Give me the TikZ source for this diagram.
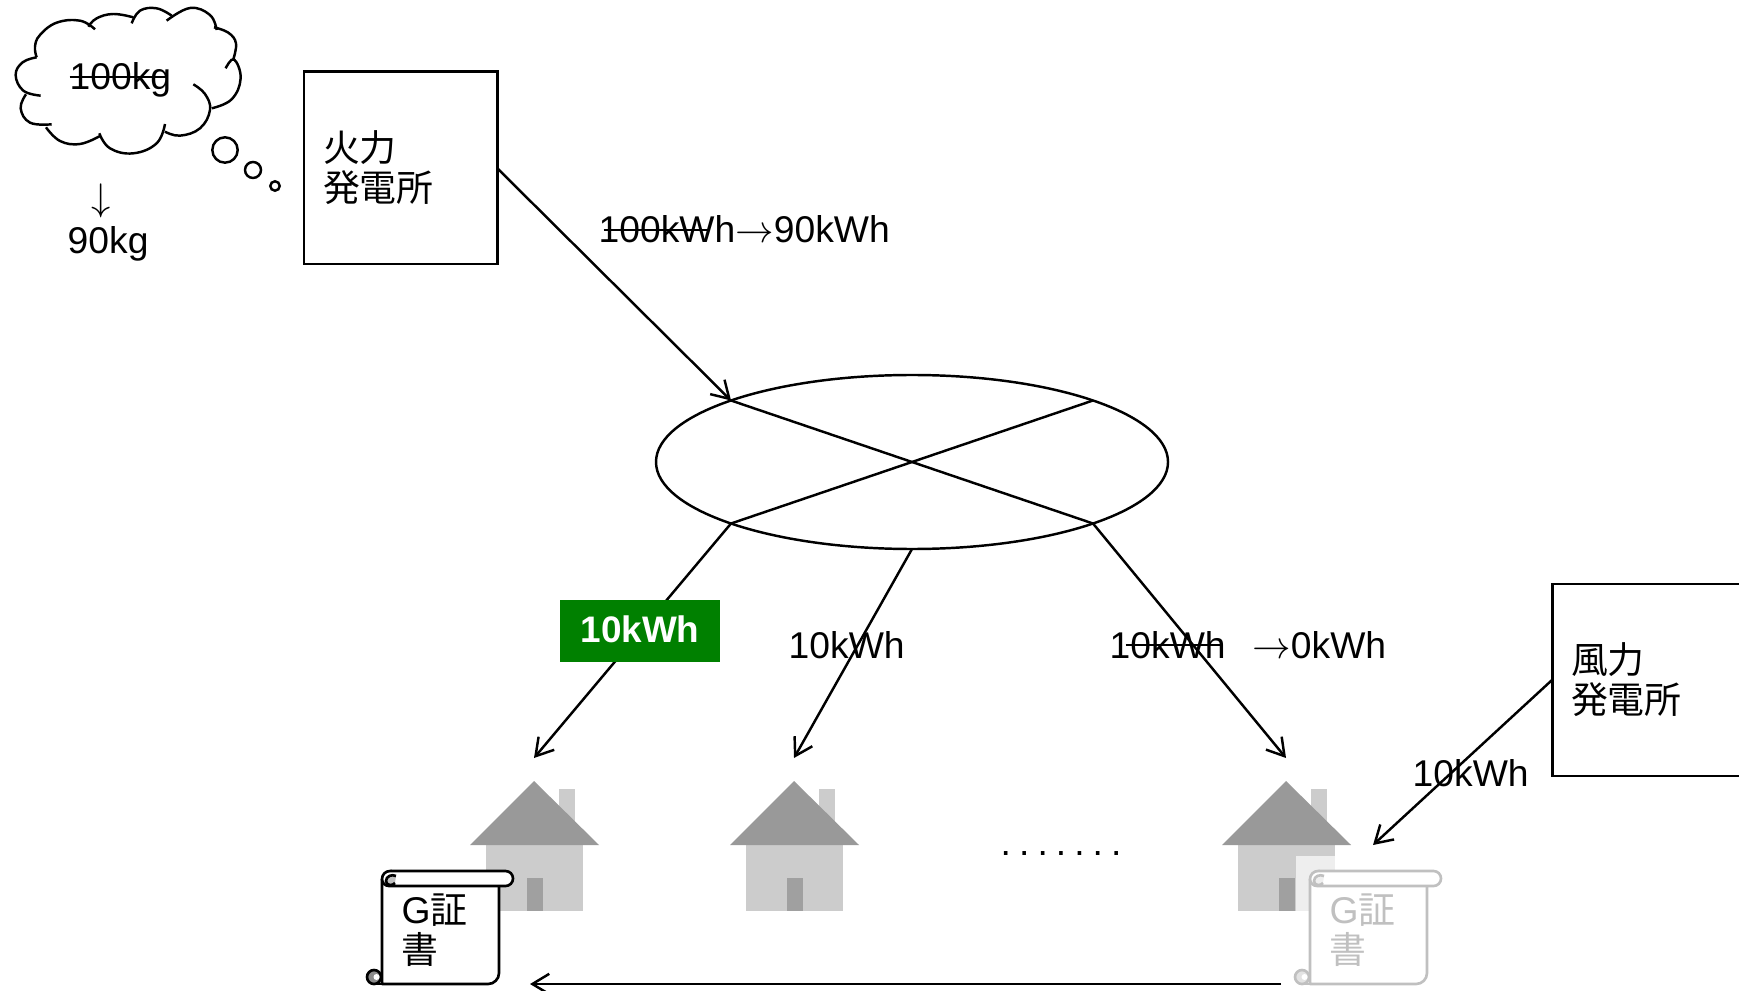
\documentclass[tikz,border=0pt]{standalone}
\usepackage{xcolor}
\usepackage{fontspec}
\setmainfont{Liberation Sans}
\newfontfamily\jp[Scale=0.99]{Noto Sans CJK JP}
\usetikzlibrary{positioning, arrows.meta, shapes.geometric}
\definecolor{roofgrey}{HTML}{999999}
\definecolor{wallgrey}{HTML}{CCCCCC}
\definecolor{doorgrey}{HTML}{A0A0A0}
\definecolor{paledgrey}{HTML}{C0C0C0}
\definecolor{fadedwall}{HTML}{EEEEEE}
\definecolor{certgreen}{HTML}{008000}
\newcommand{\crossed}[3]{\leavevmode\setbox0\hbox{#3}\rlap{\hspace{#1}\rule[0.32em]{\dimexpr\wd0-#1-#2\relax}{0.7pt}}\box0}
\tikzset{
  pics/house/.style={code={
    \fill[wallgrey] (0.25,-0.08) rectangle (0.41,-0.5);
    \fill[wallgrey] (-0.48,-0.64) rectangle (0.49,-1.30);
    \fill[roofgrey] (0,0) -- (0.65,-0.64) -- (-0.64,-0.64) -- cycle;
    \fill[doorgrey] (-0.07,-0.97) rectangle (0.09,-1.30);
    \coordinate (-top) at (0,0.23);
  }},
  pics/scroll/.style={code={
    \draw[#1, line width=0.75pt, fill=#1!45] (-0.08,-1.06) circle (0.07);
    \fill[white] (-0.055,-1.06) circle (0.03);
    \draw[#1, line width=0.75pt, fill=white, line join=round]
      (0,-0.08) -- (0,-1.13) -- (1.06,-1.13) arc (-90:0:0.11) -- (1.17,-0.15);
    \draw[#1, line width=0.75pt] (-0.08,-1.13) -- (0,-1.13);
    \draw[#1, line width=0.75pt, fill=white]
      (0.08,0) -- (1.235,0) arc (90:-90:0.075) -- (0.07,-0.15)
      arc (270:180:0.07) arc (180:90:0.08) -- cycle;
    \draw[#1, line width=0.75pt, fill=#1!25]
      (0.14,-0.05) .. controls (0.10,-0.03) and (0.04,-0.05) .. (0.04,-0.10)
      .. controls (0.04,-0.15) and (0.11,-0.15) .. (0.13,-0.12);
    \coordinate (-head) at (-0.29,-1.13);
    \coordinate (-tail) at (1.48,-1.13);
  }}
}
\begin{document}
\begin{tikzpicture}[
  every node/.style={font=\fontsize{10.6}{11.4}\selectfont},
  plantbox/.style={draw, line width=0.85pt, minimum width=1.93cm, minimum height=1.92cm,
              inner xsep=0.19cm, inner ysep=0, outer sep=0, text width=1.55cm, align=left},
  grid/.style={draw, ellipse, line width=0.7pt, minimum width=5.12cm, minimum height=1.74cm,
              inner sep=0, outer sep=0},
  bubble/.style={draw, circle, line width=0.7pt, inner sep=0},
  tag/.style={inner sep=0, anchor=base west},
  certtext/.style={inner sep=0, anchor=west, align=left},
  greenbox/.style={fill=certgreen, text=white, minimum width=1.60cm, minimum height=0.62cm,
              inner sep=0, text depth=0.04cm, font=\fontsize{10.5}{11.4}\selectfont\bfseries},
  arr/.style={-{Straight Barb[length=4.8pt,width=5.8pt]}, line width=0.7pt},
  wire/.style={line width=0.7pt},
  cloudline/.style={line width=0.7pt}
]
  \useasboundingbox (0,0) rectangle (17.39,-9.91);

  \begin{scope}[x=1cm/300, y=-1cm/300]
    \draw[cloudline] plot[smooth, tension=0.7] coordinates {(110,172) (68,187) (47,225) (70,272) (122,287)};
    \draw[cloudline] plot[smooth, tension=0.7] coordinates {(78,283) (62,325) (90,368) (155,373)};
    \draw[cloudline] plot[smooth, tension=0.7] coordinates {(138,382) (180,423) (240,432) (300,408)};
    \draw[cloudline] plot[smooth, tension=0.7] coordinates {(298,400) (330,445) (400,460) (470,430) (495,372)};
    \draw[cloudline] plot[smooth, tension=0.7] coordinates {(495,395) (540,407) (600,385) (630,330) (615,282) (580,253)};
    \draw[cloudline] plot[smooth, tension=0.7] coordinates {(635,325) (695,298) (722,235) (702,178) (677,205)};
    \draw[cloudline] plot[smooth, tension=0.7] coordinates {(700,178) (708,130) (685,98) (642,82)};
    \draw[cloudline] plot[smooth, tension=0.7] coordinates {(650,90) (630,45) (570,24) (500,62)};
    \draw[cloudline] plot[smooth, tension=0.7] coordinates {(515,47) (470,25) (420,32) (395,70)};
    \draw[cloudline] plot[smooth, tension=0.7] coordinates {(400,52) (340,42) (290,55) (265,80)};
    \draw[cloudline] plot[smooth, tension=0.7] coordinates {(285,88) (240,62) (170,68) (120,105) (105,140) (110,172)};
  \end{scope}
  \node[bubble, minimum size=0.254cm] (bubblea) at (2.25,-1.50) {};
  \node[bubble, minimum size=0.16cm]  (bubbleb) at (2.53,-1.70) {};
  \node[bubble, minimum size=0.094cm] (bubblec) at (2.75,-1.86) {};
  \node[tag] (co2old) at (0.69,-0.90) {\crossed{0pt}{0.85pt}{100kg}};
  \node[tag] (co2arrow) at (0.91,-2.11) {$\downarrow$};
  \node[tag] (co2new) at (0.67,-2.535) {90kg};

  \node[plantbox, anchor=north west] (thermal) at (3.04,-0.72) {{\jp 火力}\\{\jp 発電所}};
  \node[plantbox, anchor=north west] (wind) at (15.52,-5.84) {{\jp 風力}\\{\jp 発電所}};
  \node[grid] (net) at (9.12,-4.62) {};

  \pic (housea) at (5.34,-7.81) {house};
  \pic (houseb) at (7.94,-7.81) {house};
  \pic (housec) at (12.86,-7.81) {house};
  \fill[fadedwall] (12.96,-8.56) rectangle (13.35,-9.11);
  \pic (certa) at (3.82,-8.71) {scroll=black};
  \pic (certb) at (13.10,-8.71) {scroll=paledgrey};
  \node[certtext] (certatext) at (4.01,-9.30) {G{\jp 証}\\{\jp 書}};
  \node[certtext, text=paledgrey] (certbtext) at (13.29,-9.30) {G{\jp 証}\\{\jp 書}};

  \draw[wire] (net.north west) -- (net.south east);
  \draw[wire] (net.north east) -- (net.south west);
  \draw[arr] (thermal.east) -- (net.north west);
  \draw[arr] (net.south west) -- (housea-top);
  \draw[arr] (net.south) -- (houseb-top);
  \draw[arr] (net.south east) -- (housec-top);
  \draw[arr] (wind.west) -- (13.73,-8.45);
  \draw[arr] (certb-head) -- (certa-tail);

  \node[tag] (feedlabel) at (5.98,-2.43) {\crossed{1.4pt}{7.7pt}{100kWh}$\rightarrow$90kWh};
  \node[greenbox] (certlabel) at (6.40,-6.31) {10kWh};
  \node[tag] (midlabel) at (7.88,-6.58) {10kWh};
  \node[tag] (lastlabel) at (11.09,-6.58) {\crossed{4.5pt}{0.85pt}{10kWh}\hspace{0.72em}$\rightarrow$0kWh};
  \node[tag] (windlabel) at (14.12,-7.86) {10kWh};
  \node[tag] (moredots) at (10.00,-8.55) {\frenchspacing\spaceskip=0.216em . . . . . . .};
\end{tikzpicture}
\end{document}
